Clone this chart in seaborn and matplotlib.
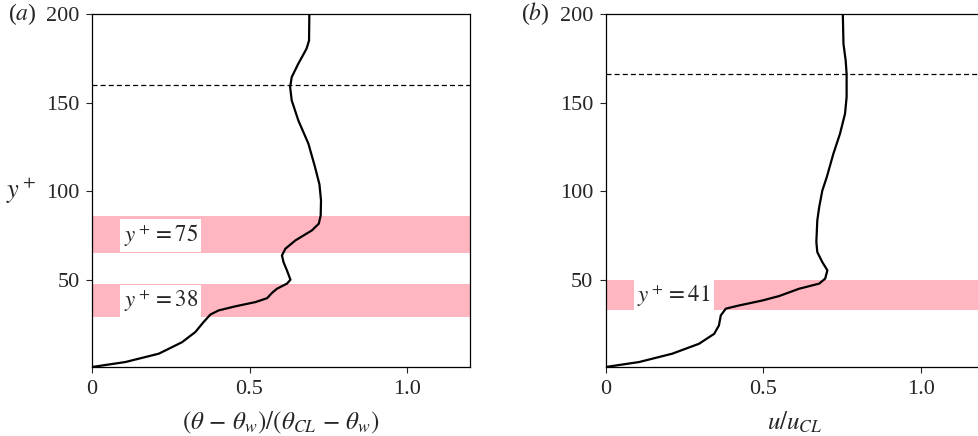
import numpy as np
import matplotlib
matplotlib.use('Agg')
import matplotlib.pyplot as plt
import seaborn as sns

# ── Data ─────────────────────────────────────────────────────────────────────
# (a) temperature profile
theta_x = [0.0, 0.106, 0.212, 0.286, 0.328, 0.354, 0.376, 0.402, 0.455, 0.519,
           0.556, 0.571, 0.587, 0.619, 0.63, 0.619, 0.608, 0.603, 0.614, 0.646,
           0.698, 0.72, 0.726, 0.727, 0.722, 0.708, 0.687, 0.655, 0.634, 0.629,
           0.634, 0.655, 0.681, 0.689, 0.69]
theta_y = [1.0, 3.8, 8.5, 15.0, 20.7, 26.3, 30.6, 32.9, 35.2, 37.6,
           39.8, 42.7, 45.1, 48.0, 50.2, 55.4, 60.1, 63.9, 67.7, 72.4,
           78.0, 81.8, 86.5, 94.9, 104.0, 113.7, 126.9, 140.0, 151.3, 158.8,
           164.4, 172.0, 180.4, 185.0, 200.0]
# (b) velocity profile
u_x = [0.0, 0.106, 0.211, 0.296, 0.344, 0.359, 0.365, 0.381, 0.423, 0.497,
       0.55, 0.613, 0.677, 0.696, 0.703, 0.687, 0.671, 0.668, 0.671, 0.677,
       0.687, 0.701, 0.722, 0.743, 0.759, 0.764, 0.764, 0.761, 0.754, 0.752]
u_y = [1.0, 3.8, 8.5, 14.1, 19.7, 24.4, 30.1, 33.9, 35.7, 38.5,
       41.0, 45.1, 48.0, 50.8, 55.5, 60.1, 65.8, 71.4, 83.6, 91.1,
       100.5, 108.0, 121.2, 132.5, 143.8, 153.2, 166.3, 173.8, 183.2, 200.0]

bands_a = [(65, 86, 75), (29, 48, 38)]
bands_b = [(33, 50, 41)]
dash_a = 160
dash_b = 166

xticks = [0, 0.5, 1.0]
xticklabels = ['0', '0.5', '1.0']
yticks = [50, 100, 150, 200]

sns.set_style('ticks')
plt.rcParams['font.family'] = 'serif'
plt.rcParams['font.serif'] = ['Liberation Serif', 'DejaVu Serif']
plt.rcParams['mathtext.fontset'] = 'stix'

fig = plt.figure(figsize=(9.79, 4.36), dpi=100)
W, H = 979, 436
ax_a = fig.add_axes([92 / W, 1 - 367 / H, 378 / W, 353 / H])
ax_b = fig.add_axes([605.7 / W, 1 - 367 / H, 378.4 / W, 353 / H])

panels = [
    (ax_a, theta_x, theta_y, bands_a, dash_a, '($a$)',
     r'$(\theta\,-\,\theta_w)/(\theta_{CL}\,-\,\theta_w)$'),
    (ax_b, u_x, u_y, bands_b, dash_b, '($b$)', r'$u/u_{CL}$'),
]

for ax, xs, ys, bands, dash, tag, xlab in panels:
    for lo, hi, val in bands:
        ax.axhspan(lo, hi, color='#ffb6c1', lw=0, zorder=0)
        ax.text(0.1, val, rf'$y^+={val}$', fontsize=16.5, va='center', ha='left',
                bbox=dict(facecolor='white', edgecolor='none', pad=2.5), zorder=3)
    ax.axhline(dash, color='k', ls=(0, (4, 2.5)), lw=0.9, zorder=2)
    sns.lineplot(x=xs, y=ys, sort=False, estimator=None, color='k', lw=1.6,
                 ax=ax, zorder=4)
    ax.set_xlim(0, 1.2)
    ax.set_ylim(1, 200)
    ax.set_xticks(xticks)
    ax.set_xticklabels(xticklabels)
    ax.set_yticks(yticks)
    ax.tick_params(labelsize=16, length=4, width=0.8, direction='out', pad=5)
    for s in ax.spines.values():
        s.set_linewidth(0.9)
        s.set_color('k')
    ax.set_xlabel(xlab, fontsize=18, labelpad=8)
    ax.text(-0.185, 1.0, tag, transform=ax.transAxes, fontsize=17,
            ha='center', va='center')

ax_a.set_ylabel(r'$y^+$', fontsize=19, rotation=0, va='center')
ax_a.yaxis.set_label_coords(-0.188, 0.5)

fig.savefig('out.png', dpi=100)
